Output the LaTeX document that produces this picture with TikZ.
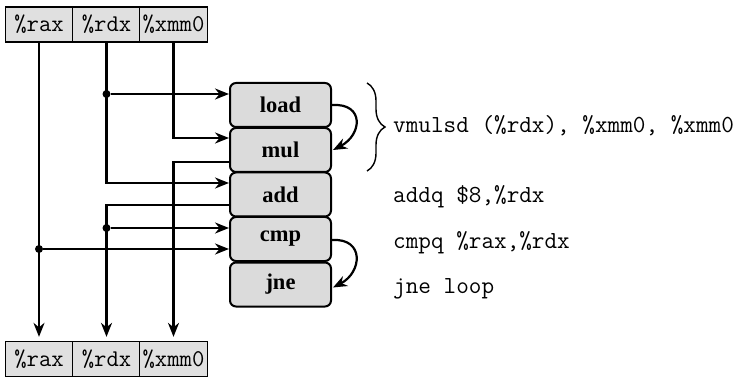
\documentclass[tikz,border=0pt]{standalone}
\usepackage{fontspec}
\newfontfamily\opfont{Liberation Serif}
\usetikzlibrary{arrows.meta,decorations.pathreplacing,calc}
\begin{document}
\begin{tikzpicture}[x=1pt,y=-1pt,
  reg/.style={draw, line width=1.3pt, fill=black!12, minimum width=67.5pt, minimum height=35pt, inner sep=0pt, font=\ttfamily\fontsize{24}{24}\selectfont},
  op/.style={draw, line width=2pt, rounded corners=6pt, fill=black!14, minimum width=101pt, minimum height=44pt, inner sep=0pt, font=\opfont\bfseries\fontsize{22.5}{22.5}\selectfont},
  wire/.style={line width=2.2pt},
  arr/.style={wire, -{Stealth[length=14pt,width=11pt]}},
  dot/.style={circle, fill, inner sep=0pt, minimum size=8pt},
  code/.style={anchor=base west, inner sep=0pt, font=\ttfamily\fontsize{24.5}{24.5}\selectfont}]

\useasboundingbox (0,0) rectangle (745,377);

% register files
\node[reg] (trax) at (39,24.5) {\%rax};
\node[reg] (trdx) at (106.5,24.5) {\%rdx};
\node[reg] (txmm) at (173.5,24.5) {\%xmm0};
\node[reg] (brax) at (39,359) {\%rax};
\node[reg] (brdx) at (106.5,359) {\%rdx};
\node[reg] (bxmm) at (173.5,359) {\%xmm0};

% operations
\node[op] (load) at (280.5,105) {load};
\node[op] (mul)  at (280.5,150) {mul};
\node[op] (add)  at (280.5,194.5) {add};
\node[op] (cmp)  at (280.5,239) {cmp};
\node[op] (jne)  at (280.5,284.5) {jne};

% connection points
\coordinate (l1) at ($(load.west)+(0,-11)$);
\coordinate (m1) at ($(mul.west)+(0,-12)$);
\coordinate (m2) at ($(mul.west)+(0,12)$);
\coordinate (a1) at ($(add.west)+(0,-11.5)$);
\coordinate (a2) at ($(add.west)+(0,10.5)$);
\coordinate (c1) at ($(cmp.west)+(0,-11)$);
\coordinate (c2) at ($(cmp.west)+(0,10)$);

\node[dot] (d1) at (trdx |- l1) {};
\node[dot] (d2) at (trdx |- c1) {};
\node[dot] (d3) at (trax |- c2) {};

% wires
\draw[arr, shorten >=4pt] (trax) -- (brax);
\draw[arr] (trdx) |- (a1);
\draw[arr] (d1) -- (l1);
\draw[arr] (txmm) |- (m1);
\draw[arr, shorten >=4pt] (m2) -| (bxmm);
\draw[arr, shorten >=4pt] (a2) -| (brdx);
\draw[arr] (d2) -- (c1);
\draw[arr] (d3) -- (c2);

% loops
\draw[arr] (load.east) .. controls +(33,-2) and +(29,-15) .. ($(mul.east)+(1,0)$);
\coordinate (j1) at ($(jne.east)+(1,3)$);
\draw[arr] ($(cmp.east)+(0,1)$) .. controls +(33,-2) and +(29,-15) .. (j1);

% brace
\draw[line width=1.4pt, decorate, decoration={brace, amplitude=18pt}] (367,83) -- (367,171);

% code
\node[code] (t1) at (393,133) {vmulsd (\%rdx), \%xmm0, \%xmm0};
\node[code] (t2) at (393,203) {addq \$8,\%rdx};
\node[code] (t3) at (393,248) {cmpq \%rax,\%rdx};
\node[code] (t4) at (393,293) {jne loop};
\end{tikzpicture}
\end{document}
